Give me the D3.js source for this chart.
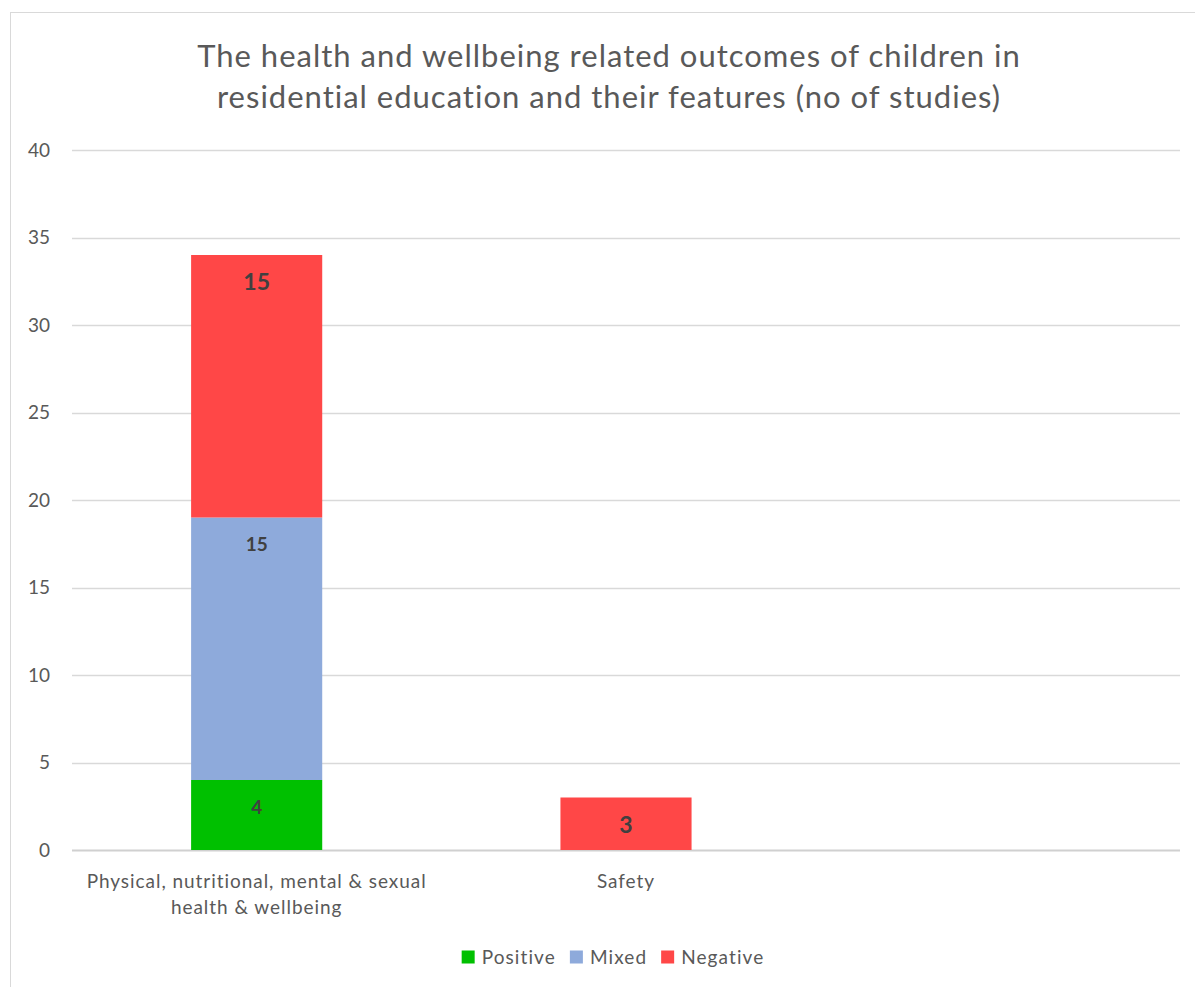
<!DOCTYPE html>
<html>
<head>
<meta charset="utf-8">
<script src="https://cdn.jsdelivr.net/npm/d3@7"></script>
<style>
  body { margin: 0; background: #fff; }
  svg { display: block; font-family: Lato, "Open Sans", sans-serif; }
</style>
</head>
<body>
<svg id="chart" width="1195" height="987"></svg>
<script>
// ----------- DATA ------------
const categories = ["Physical, nutritional, mental & sexual|health & wellbeing", "Safety", ""];
const seriesNames = ["Positive", "Mixed", "Negative"];
const positive = [4, 0, 0];
const mixed = [15, 0, 0];
const negative = [15, 3, 0];
const yTicks = [0, 5, 10, 15, 20, 25, 30, 35, 40];
const titleLines = [
    "The health and wellbeing related outcomes of children in",
    "residential education and their features (no of studies)"
];

// ----------- SETUP ------------
const colors = { Positive: "#00c000", Mixed: "#8eaadb", Negative: "#ff4747" };
const textColor = "#595959";
const svg = d3.select("#chart");

// chart frame
svg.append("rect")
    .attr("x", 10.5).attr("y", 12.5)
    .attr("width", 1200).attr("height", 1000)
    .attr("fill", "#fff")
    .attr("stroke", "#d9d9d9");

const plot = { left: 72, right: 1180, top: 150, bottom: 850 };

const x = d3.scaleBand()
    .domain(d3.range(categories.length))
    .range([plot.left, plot.right])
    .padding(0);

const y = d3.scaleLinear()
    .domain([0, 40])
    .range([plot.bottom, plot.top]);

const barWidth = x.bandwidth() * 0.355;

// title
svg.append("text")
    .attr("text-anchor", "middle")
    .attr("fill", textColor)
    .attr("font-size", 31)
    .attr("letter-spacing", 1)
    .selectAll("tspan")
    .data(titleLines)
    .join("tspan")
    .attr("x", 609)
    .attr("y", (d, i) => 67 + i * 41)
    .text(d => d);

// gridlines + y labels
svg.append("g")
    .selectAll("line")
    .data(yTicks)
    .join("line")
    .attr("x1", plot.left).attr("x2", plot.right)
    .attr("y1", d => Math.round(y(d)) + 0.5)
    .attr("y2", d => Math.round(y(d)) + 0.5)
    .attr("stroke", d => d === 0 ? "#d0d0d0" : "#d9d9d9")
    .attr("stroke-width", d => d === 0 ? 2 : 1.3);

const yAxis = svg.append("g")
    .attr("transform", `translate(${plot.left},0)`)
    .call(d3.axisLeft(y).tickValues(yTicks).tickSize(0).tickPadding(22));
yAxis.select(".domain").remove();
yAxis.selectAll("text")
    .attr("fill", textColor)
    .attr("font-size", 19)
    .attr("font-family", "Lato, sans-serif");

// ----------- STACKED BARS ------------
const table = categories.map((c, i) => ({
    idx: i, Positive: positive[i], Mixed: mixed[i], Negative: negative[i]
}));
const stack = d3.stack().keys(seriesNames)(table);

const layers = svg.append("g")
    .selectAll("g")
    .data(stack)
    .join("g")
    .attr("fill", d => colors[d.key]);

layers.selectAll("rect")
    .data(d => d.filter(s => s[1] - s[0] > 0))
    .join("rect")
    .attr("x", d => x(d.data.idx) + (x.bandwidth() - barWidth) / 2)
    .attr("width", barWidth)
    .attr("y", d => y(d[1]))
    .attr("height", d => y(d[0]) - y(d[1]));

// data labels (inside end)
stack.forEach(layer => {
    const big = layer.key === "Negative";
    svg.append("g")
        .selectAll("text")
        .data(layer.filter(s => s[1] - s[0] > 0))
        .join("text")
        .attr("x", d => x(d.data.idx) + x.bandwidth() / 2)
        .attr("y", d => y(d[1]) + 27)
        .attr("dy", "0.35em")
        .attr("text-anchor", "middle")
        .attr("font-weight", "bold")
        .attr("font-size", big ? 23 : 19)
        .attr("fill", "#404040")
        .text(d => d[1] - d[0]);
});

// x labels
svg.append("g")
    .selectAll("text")
    .data(categories)
    .join("text")
    .attr("text-anchor", "middle")
    .attr("fill", textColor)
    .attr("font-size", 19)
    .attr("letter-spacing", 0.95)
    .each(function (d, i) {
        d3.select(this).selectAll("tspan")
            .data(d.split("|"))
            .join("tspan")
            .attr("x", x(i) + x.bandwidth() / 2)
            .attr("y", (t, j) => 888 + j * 26)
            .text(t => t);
    });

// ----------- LEGEND ------------
const legend = svg.append("g");
let lx = 0;
seriesNames.forEach(name => {
    const item = legend.append("g").attr("transform", `translate(${lx},0)`);
    item.append("rect")
        .attr("x", 0).attr("y", -6.5)
        .attr("width", 13).attr("height", 13)
        .attr("fill", colors[name]);
    const t = item.append("text")
        .attr("x", 20)
        .attr("dy", "0.35em")
        .attr("fill", textColor)
        .attr("font-size", 19)
        .attr("letter-spacing", 1.1)
        .text(name);
    lx += 20 + t.node().getComputedTextLength() + 14;
});
legend.attr("transform", `translate(${613 - (lx - 14) / 2},957)`);
</script>
</body>
</html>
